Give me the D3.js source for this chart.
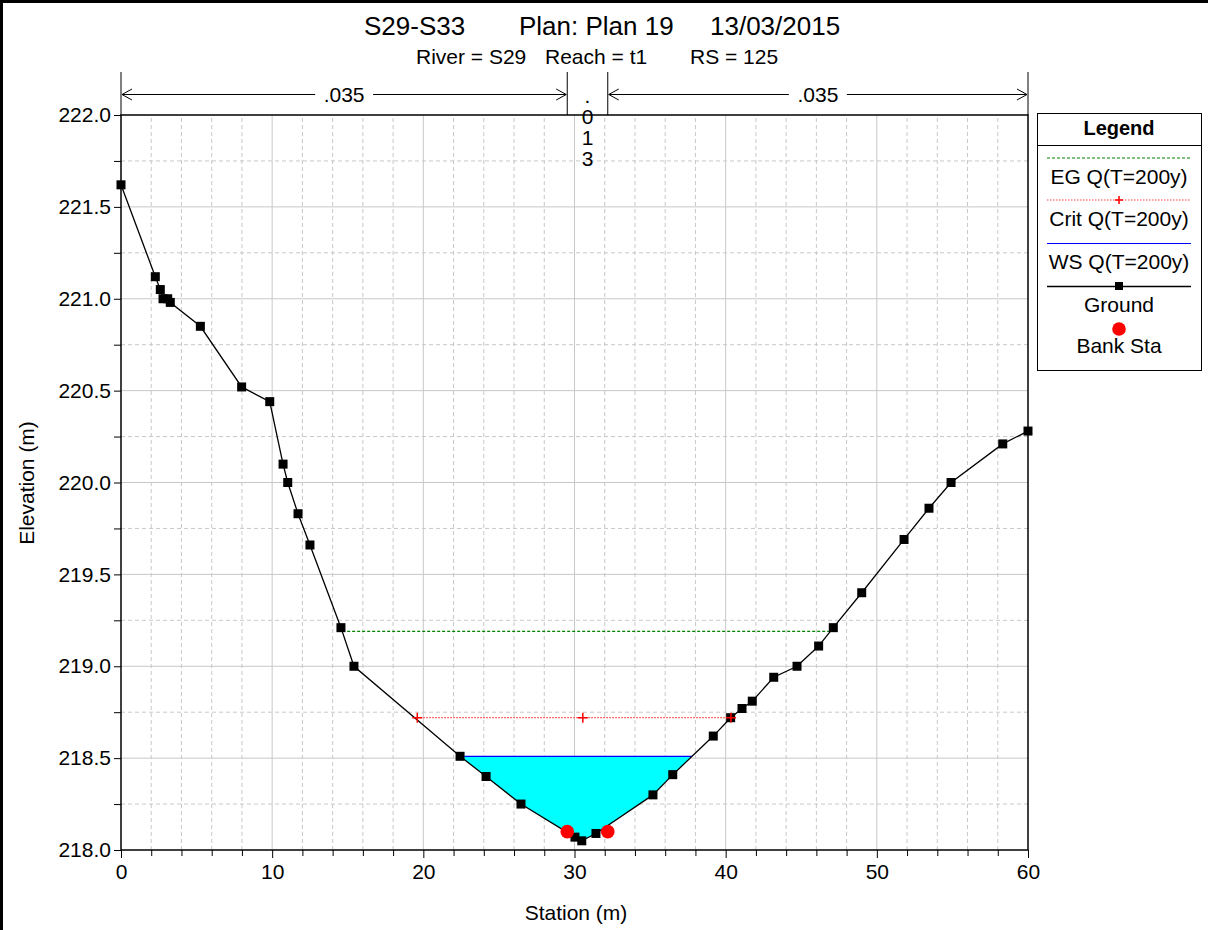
<!DOCTYPE html>
<html>
<head>
<meta charset="utf-8">
<script src="https://cdn.jsdelivr.net/npm/d3@7"></script>
<style>
  body { margin: 0; background: #fff; }
  svg { font-family: "Liberation Sans", Arial, sans-serif; }
</style>
</head>
<body>
<svg id="chart" width="1208" height="930"></svg>
<script>
// ground profile (station m, elevation m)
const station = [0, 2.27, 2.6, 2.78, 3.09, 3.26, 5.25, 7.98, 9.84, 10.72, 11.03, 11.71, 12.5, 14.55, 15.41,
  22.43, 24.15, 26.46, 30.03, 30.48, 31.42, 35.19, 36.5, 39.18, 40.33, 41.08, 41.76, 43.18, 44.72,
  46.15, 47.12, 49.0, 51.8, 53.45, 54.91, 58.33, 60];
const elevation = [221.62, 221.12, 221.05, 221.0, 221.0, 220.98, 220.85, 220.52, 220.44, 220.1, 220.0, 219.83, 219.66, 219.21, 219.0,
  218.51, 218.4, 218.25, 218.07, 218.05, 218.09, 218.3, 218.41, 218.62, 218.72, 218.77, 218.81, 218.94, 219.0,
  219.11, 219.21, 219.4, 219.69, 219.86, 220.0, 220.21, 220.28];
const bankSta = [29.52, 32.2];
const bankElev = [218.1, 218.1];
const wsElev = 218.51;
const egElev = 219.19;
const critElev = 218.72;
const critMarks = [19.6, 30.55, 40.35];
const nLeft = ".035", nChan = ".013", nRight = ".035";
const xTicks = [0, 10, 20, 30, 40, 50, 60];
const yTicks = [218.0, 218.5, 219.0, 219.5, 220.0, 220.5, 221.0, 221.5, 222.0];
const legendItems = ["EG Q(T=200y)", "Crit Q(T=200y)", "WS Q(T=200y)", "Ground", "Bank Sta"];

const svg = d3.select("#chart");
const margin = { left: 121, right: 180, top: 115, bottom: 80 };
const width = 1208, height = 930;
const fs = 21;

const x = d3.scaleLinear().domain([0, 60]).range([margin.left, width - margin.right]);
const y = d3.scaleLinear().domain([218, 222]).range([height - margin.bottom, margin.top]);

const ground = station.map((s, i) => ({ s: s, z: elevation[i] }));

// page frame (only top/left visible)
svg.append("rect").attr("x", 1.5).attr("y", 1.5).attr("width", 1300).attr("height", 1000)
  .attr("fill", "none").attr("stroke", "#000").attr("stroke-width", 3);

// grid
const grid = svg.append("g");
d3.range(2, 60, 2).forEach(v => {
  grid.append("line").attr("x1", x(v)).attr("x2", x(v)).attr("y1", y(218)).attr("y2", y(222))
    .attr("stroke", "#c8c8c8").attr("stroke-width", 1)
    .attr("stroke-dasharray", v % 10 === 0 ? null : "4,3");
});
d3.range(218.25, 222, 0.25).forEach(v => {
  const major = Math.abs(v * 2 - Math.round(v * 2)) < 1e-6;
  grid.append("line").attr("x1", x(0)).attr("x2", x(60)).attr("y1", y(v)).attr("y2", y(v))
    .attr("stroke", "#c8c8c8").attr("stroke-width", 1)
    .attr("stroke-dasharray", major ? null : "4,3");
});

// find where a level crosses the ground either side of the lowest point
function crossing(level) {
  let lo = d3.minIndex(ground, d => d.z);
  let i = lo, j = lo;
  while (i > 0 && ground[i - 1].z < level) i--;
  while (j < ground.length - 1 && ground[j + 1].z < level) j++;
  const a = ground[i - 1], b = ground[i];
  const c = ground[j], d = ground[j + 1];
  const xl = a.s + (level - a.z) / (b.z - a.z) * (b.s - a.s);
  const xr = c.s + (level - c.z) / (d.z - c.z) * (d.s - c.s);
  return { xl: xl, xr: xr, i: i, j: j };
}

// water fill
const ws = crossing(wsElev);
const wetPts = [[ws.xl, wsElev]].concat(ground.slice(ws.i, ws.j + 1).map(d => [d.s, d.z]), [[ws.xr, wsElev]]);
svg.append("path")
  .attr("d", d3.line().x(d => x(d[0])).y(d => y(d[1]))(wetPts) + "Z")
  .attr("fill", "#00ffff");
svg.append("line").attr("x1", x(ws.xl)).attr("x2", x(ws.xr)).attr("y1", y(wsElev)).attr("y2", y(wsElev))
  .attr("stroke", "#0000ff").attr("stroke-width", 1.2);

// energy grade
const eg = crossing(egElev);
svg.append("line").attr("x1", x(eg.xl)).attr("x2", x(eg.xr)).attr("y1", y(egElev)).attr("y2", y(egElev))
  .attr("stroke", "#008000").attr("stroke-width", 1.2).attr("stroke-dasharray", "3,2");

// critical
svg.append("line").attr("x1", x(critMarks[0])).attr("x2", x(critMarks[critMarks.length - 1]))
  .attr("y1", y(critElev)).attr("y2", y(critElev))
  .attr("stroke", "#ff4040").attr("stroke-width", 1.2).attr("stroke-dasharray", "1.5,1.5");

// ground line + markers
svg.append("path").datum(ground)
  .attr("d", d3.line().x(d => x(d.s)).y(d => y(d.z)))
  .attr("fill", "none").attr("stroke", "#000").attr("stroke-width", 1.3);
svg.append("g").selectAll("rect").data(ground).join("rect")
  .attr("x", d => x(d.s) - 4.5).attr("y", d => y(d.z) - 4.5)
  .attr("width", 9).attr("height", 9).attr("fill", "#000");

// crit + markers
svg.append("g").selectAll("path").data(critMarks).join("path")
  .attr("d", d => `M${x(d) - 5},${y(critElev)}h10M${x(d)},${y(critElev) - 5}v10`)
  .attr("stroke", "#ff0000").attr("stroke-width", 1.5);

// bank stations
svg.append("g").selectAll("circle").data(bankSta).join("circle")
  .attr("cx", d => x(d)).attr("cy", (d, i) => y(bankElev[i])).attr("r", 6.8).attr("fill", "#ff0000");

// plot frame
svg.append("rect").attr("x", x(0)).attr("y", y(222)).attr("width", x(60) - x(0)).attr("height", y(218) - y(222))
  .attr("fill", "none").attr("stroke", "#000").attr("stroke-width", 1.5);

// axes
const yAxis = g => g
  .attr("transform", "translate(" + x(0) + ",0)")
  .call(d3.axisLeft(y).tickValues(yTicks).tickFormat(d3.format(".1f")).tickSize(7).tickPadding(3).tickSizeOuter(0));
const yMinor = g => g
  .attr("transform", "translate(" + x(0) + ",0)")
  .call(d3.axisLeft(y).tickValues(d3.range(218.25, 222, 0.5)).tickFormat("").tickSize(7).tickSizeOuter(0));
const xAxis = g => g
  .attr("transform", "translate(0," + y(218) + ")")
  .call(d3.axisBottom(x).tickValues(xTicks).tickSize(8).tickPadding(6).tickSizeOuter(0));
const xMinor = g => g
  .attr("transform", "translate(0," + y(218) + ")")
  .call(d3.axisBottom(x).tickValues(d3.range(2, 60, 2).filter(v => v % 10)).tickFormat("").tickSize(6).tickSizeOuter(0));

[yAxis, yMinor, xAxis, xMinor].forEach(fn => {
  const g = svg.append("g").call(fn);
  g.select(".domain").remove();
  g.selectAll("line").attr("stroke", "#000");
  g.selectAll("text").attr("font-size", fs).attr("fill", "#000").attr("font-family", "Liberation Sans, Arial, sans-serif");
});

// axis titles
svg.append("text").attr("x", 576).attr("y", 920).attr("text-anchor", "middle")
  .attr("font-size", fs).text("Station (m)");
svg.append("text").attr("transform", "translate(34,483) rotate(-90)").attr("text-anchor", "middle")
  .attr("font-size", fs).text("Elevation (m)");

// titles
const t = svg.append("text").attr("y", 35).attr("font-size", 26);
t.append("tspan").attr("x", 364).text("S29-S33");
t.append("tspan").attr("x", 519).text("Plan: Plan 19");
t.append("tspan").attr("x", 710).text("13/03/2015");
const st = svg.append("text").attr("y", 64).attr("font-size", fs);
st.append("tspan").attr("x", 416).text("River = S29");
st.append("tspan").attr("x", 545).text("Reach = t1");
st.append("tspan").attr("x", 690).text("RS = 125");

// manning's n bands
const nY = 94.5;
const bands = [[0, bankSta[0], nLeft], [bankSta[1], 60, nRight]];
[0, bankSta[0], bankSta[1], 60].forEach(v => {
  svg.append("line").attr("x1", x(v)).attr("x2", x(v)).attr("y1", 72).attr("y2", y(222))
    .attr("stroke", "#000").attr("stroke-width", 1);
});
bands.forEach(b => {
  const x0 = x(b[0]) + 1, x1 = x(b[1]) - 1, mid = (x0 + x1) / 2;
  const tw = 58;
  svg.append("line").attr("x1", x0).attr("x2", mid - tw / 2).attr("y1", nY).attr("y2", nY).attr("stroke", "#000");
  svg.append("line").attr("x1", mid + tw / 2).attr("x2", x1).attr("y1", nY).attr("y2", nY).attr("stroke", "#000");
  svg.append("path").attr("d", `M${x0 + 10},${nY - 5.5}L${x0},${nY}L${x0 + 10},${nY + 5.5}`)
    .attr("fill", "none").attr("stroke", "#000");
  svg.append("path").attr("d", `M${x1 - 10},${nY - 5.5}L${x1},${nY}L${x1 - 10},${nY + 5.5}`)
    .attr("fill", "none").attr("stroke", "#000");
  svg.append("text").attr("x", mid).attr("y", 102).attr("text-anchor", "middle")
    .attr("font-size", fs).text(b[2]);
});
const chMid = (x(bankSta[0]) + x(bankSta[1])) / 2;
nChan.split("").forEach((c, i) => {
  svg.append("text").attr("x", chMid).attr("y", 103 + i * 21).attr("text-anchor", "middle")
    .attr("font-size", fs).text(c);
});

// legend
const lg = svg.append("g").attr("transform", "translate(1037,113)");
lg.append("rect").attr("x", 0.5).attr("y", 0.5).attr("width", 164).attr("height", 257)
  .attr("fill", "#fff").attr("stroke", "#000");
lg.append("line").attr("x1", 0).attr("x2", 165).attr("y1", 32.5).attr("y2", 32.5).attr("stroke", "#000");
lg.append("text").attr("x", 82).attr("y", 22).attr("text-anchor", "middle")
  .attr("font-size", 20).attr("font-weight", "bold").text("Legend");
const lx0 = 10, lx1 = 154, lmid = 82;
lg.append("line").attr("x1", lx0).attr("x2", lx1).attr("y1", 45).attr("y2", 45)
  .attr("stroke", "#008000").attr("stroke-width", 1.2).attr("stroke-dasharray", "3,2");
lg.append("line").attr("x1", lx0).attr("x2", lx1).attr("y1", 87).attr("y2", 87)
  .attr("stroke", "#ff4040").attr("stroke-width", 1.2).attr("stroke-dasharray", "1.5,1.5");
lg.append("path").attr("d", `M${lmid - 4},87h8M${lmid},83v8`).attr("stroke", "#ff0000").attr("stroke-width", 1.5);
lg.append("line").attr("x1", lx0).attr("x2", lx1).attr("y1", 130.5).attr("y2", 130.5)
  .attr("stroke", "#0000ff").attr("stroke-width", 1.2);
lg.append("line").attr("x1", lx0).attr("x2", lx1).attr("y1", 173.5).attr("y2", 173.5)
  .attr("stroke", "#000").attr("stroke-width", 1.3);
lg.append("rect").attr("x", lmid - 4).attr("y", 169).attr("width", 8).attr("height", 8).attr("fill", "#000");
lg.append("circle").attr("cx", lmid).attr("cy", 216).attr("r", 6.8).attr("fill", "#ff0000");
const labelY = [71, 113, 156, 199, 240];
legendItems.forEach((s, i) => {
  lg.append("text").attr("x", lmid).attr("y", labelY[i]).attr("text-anchor", "middle")
    .attr("font-size", fs).text(s);
});
</script>
</body>
</html>
